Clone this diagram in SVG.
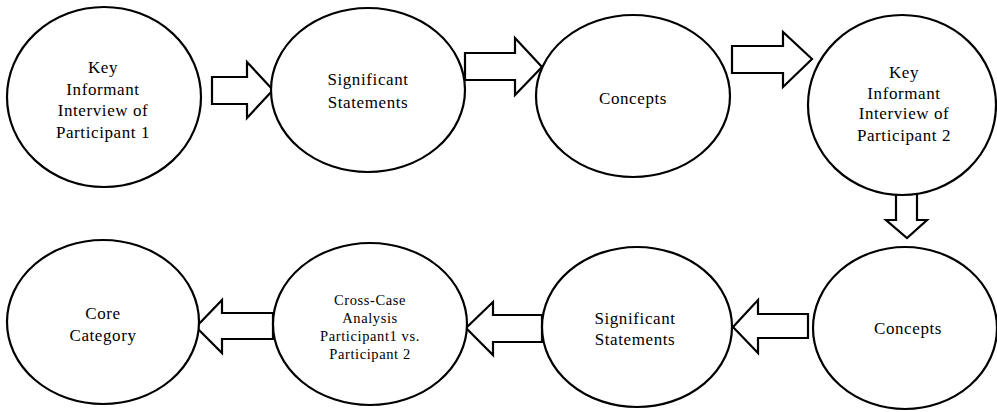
<svg xmlns="http://www.w3.org/2000/svg" width="997" height="412" viewBox="0 0 997 412">
<style>
.n{fill:#fff;stroke:#000;stroke-width:2.2}
.a{fill:#fff;stroke:#000;stroke-width:2.2;stroke-linejoin:miter}
text{font-family:'Liberation Serif','DejaVu Serif','Times New Roman',serif;font-size:17px;letter-spacing:0.6px;fill:#000;text-anchor:middle}
.s{font-size:14.5px}
</style>
<rect width="997" height="412" fill="#fff"/>
<g id="connectors">
<path class="a" d="M212,77 H247 V62 L273,90 L247,118 V104 H212 Z"/>
<path class="a" d="M465,53 H515 V38 L542,67 L515,95 V80 H465 Z"/>
<path class="a" d="M732,46 H783 V32 L812,59 L783,87 V73 H732 Z"/>
<path class="a" d="M896,170 H917 V220 H927 L907,238 L886,220 H896 Z"/>
<path class="a" d="M808,314 H758 V300 L733,327 L758,353 V338 H808 Z"/>
<path class="a" d="M542,315 H493 V302 L466,328 L493,355 V342 H542 Z"/>
<path class="a" d="M273,313 H222 V300 L196,327 L222,353 V339 H273 Z"/>
</g>
<g id="n1"><ellipse class="n" cx="104" cy="97" rx="97" ry="90"/>
<text x="103" y="73">Key</text><text x="103" y="95">Informant</text><text x="103" y="116">Interview of</text><text x="103" y="138">Participant 1</text></g>
<g id="n2"><ellipse class="n" cx="368" cy="90" rx="97" ry="82"/>
<text x="368" y="85">Significant</text><text x="368" y="108">Statements</text></g>
<g id="n3"><ellipse class="n" cx="633" cy="96" rx="97" ry="81"/>
<text x="633" y="104">Concepts</text></g>
<g id="n4"><ellipse class="n" cx="902" cy="105" rx="94" ry="90"/>
<text x="904" y="78">Key</text><text x="904" y="99">Informant</text><text x="904" y="119">Interview of</text><text x="904" y="141">Participant 2</text></g>
<g id="n5"><ellipse class="n" cx="905" cy="328" rx="92" ry="81"/>
<text x="908" y="334">Concepts</text></g>
<g id="n6"><ellipse class="n" cx="637" cy="327" rx="95" ry="80"/>
<text x="635" y="324">Significant</text><text x="635" y="345">Statements</text></g>
<g id="n7"><ellipse class="n" cx="370" cy="324" rx="97" ry="81"/>
<text class="s" x="370" y="305">Cross-Case</text><text class="s" x="370" y="323">Analysis</text><text class="s" x="370" y="341">Participant1 vs.</text><text class="s" x="370" y="359">Participant 2</text></g>
<g id="n8"><ellipse class="n" cx="103" cy="322" rx="96" ry="82"/>
<text x="103" y="319">Core</text><text x="103" y="341">Category</text></g>
</svg>
